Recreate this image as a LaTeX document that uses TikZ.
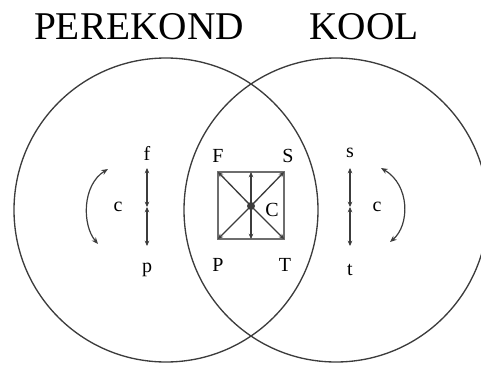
\documentclass[tikz,border=0pt]{standalone}
\usepackage{fontspec}
\setmainfont{Liberation Serif}
\usetikzlibrary{arrows.meta}
\definecolor{vennGray}{RGB}{60,60,60}
\definecolor{edgeGray}{RGB}{110,110,110}

\begin{document}
\begin{tikzpicture}[
    x=0.75pt, y=-0.75pt,
    setcircle/.style={draw=vennGray, line width=1pt},
    title/.style={font=\fontsize{29.5}{30}\selectfont, inner sep=0pt},
    elem/.style={font=\fontsize{15}{16}\selectfont, inner sep=1pt},
    pair/.style={{Stealth[length=4pt,width=3.5pt]}-{Stealth[length=4pt,width=3.5pt]}, line width=1.3pt, color=vennGray},
    diag/.style={-{Stealth[length=4pt,width=3.5pt]}, line width=1pt, color=vennGray},
    side/.style={line width=1pt, color=edgeGray},
    swap/.style={{Stealth[length=5pt,width=4pt]}-{Stealth[length=5pt,width=4pt]}, line width=0.9pt, color=vennGray}
]
\useasboundingbox (0,0) rectangle (481,364);
% the two sets
\draw[setcircle] (166,210) circle[radius=152*0.75pt];
\draw[setcircle] (336,210) circle[radius=152*0.75pt];
\node[title] (perekond) at (139,27) {PEREKOND};
\node[title] (kool) at (364,27) {KOOL};

% left pair f / p
\node[elem] (f) at (147,153) {f};
\node[elem] (p) at (147,270) {p};
\node[elem] (cl) at (118,207) {c};
\coordinate (ftop) at (147,168);
\coordinate (fmid) at (147,207);
\coordinate (pbot) at (147,246);
\draw[pair] (fmid) -- (ftop);
\draw[pair] (fmid) -- (pbot);
\coordinate (cla) at (108,169);
\coordinate (clb) at (98,244);
\draw[swap] (cla) .. controls (82,185) and (82,225) .. (clb);

% right pair s / t
\node[elem] (s) at (350,153) {s};
\node[elem] (t) at (350,270) {t};
\node[elem] (cr) at (377,207) {c};
\coordinate (stop) at (350,168);
\coordinate (smid) at (350,207);
\coordinate (tbot) at (350,246);
\draw[pair] (smid) -- (stop);
\draw[pair] (smid) -- (tbot);
\coordinate (cra) at (381,168);
\coordinate (crb) at (390,242);
\draw[swap] (cra) .. controls (410,185) and (410,225) .. (crb);

% square in the middle
\coordinate (F) at (218,172);
\coordinate (S) at (284,172);
\coordinate (P) at (218,239);
\coordinate (T) at (284,239);
\coordinate (C) at (251,206);
\coordinate (top) at (251,172);
\coordinate (bot) at (251,239);
\draw[side] (F) -- (S) -- (T) -- (P) -- cycle;
\draw[diag] (C) -- (F);
\draw[diag] (C) -- (S);
\draw[diag] (C) -- (P);
\draw[diag] (C) -- (T);
\draw[diag] (C) -- (top);
\draw[diag] (C) -- (bot);
\fill[vennGray] (C) circle[radius=4*0.75pt];
\node[elem] (lF) at (218,156) {F};
\node[elem] (lS) at (288,156) {S};
\node[elem] (lC) at (272,210) {C};
\node[elem] (lP) at (218,265) {P};
\node[elem] (lT) at (285,265) {T};
\end{tikzpicture}
\end{document}
